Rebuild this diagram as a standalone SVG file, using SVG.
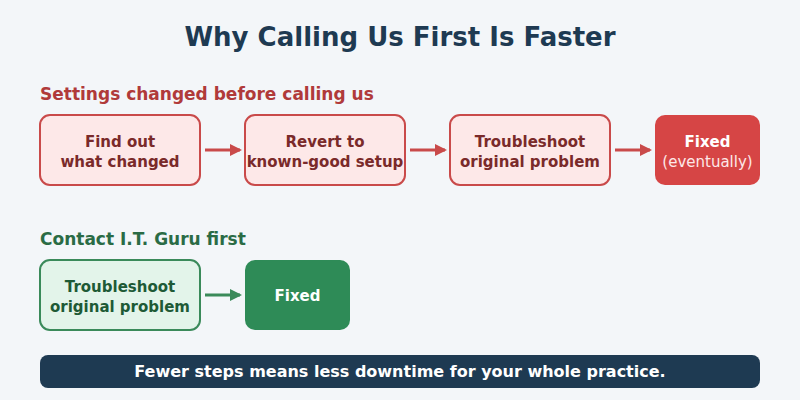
<svg xmlns="http://www.w3.org/2000/svg" width="800" height="400" viewBox="0 0 800 400">
<defs>
<style>
text{font-family:"DejaVu Sans","Liberation Sans",sans-serif;font-weight:bold}
.title{font-size:26px;fill:#1e3a52}
.sec{font-size:17px}
.red{fill:#b03a3a}
.grn{fill:#2a6b45}
.rbox{fill:#fde8e8;stroke:#c94a4a;stroke-width:2}
.gbox{fill:#e3f4ea;stroke:#3a8a5a;stroke-width:2}
.rt{font-size:15px;fill:#7a2a2a}
.gt{font-size:15px;fill:#1e5a36}
.wt{font-size:15px;fill:#ffffff}
.conr{stroke:#c94a4a;stroke-width:3;fill:none}
.cong{stroke:#3a8a5a;stroke-width:3;fill:none}
</style>
<marker id="ar" markerWidth="12" markerHeight="12" refX="10" refY="6" orient="auto" markerUnits="userSpaceOnUse"><path d="M0,0 L12,6 L0,12 Z" fill="#c94a4a"/></marker>
<marker id="ag" markerWidth="12" markerHeight="12" refX="10" refY="6" orient="auto" markerUnits="userSpaceOnUse"><path d="M0,0 L12,6 L0,12 Z" fill="#3a8a5a"/></marker>
</defs>
<rect width="800" height="400" fill="#f3f6f9"/>
<text class="title" x="400" y="46" text-anchor="middle">Why Calling Us First Is Faster</text>
<text class="sec red" x="40" y="100">Settings changed before calling us</text>
<text class="sec grn" x="40" y="245">Contact I.T. Guru first</text>
<g id="n1"><rect class="rbox" x="40" y="115" width="160" height="70" rx="10"/><text class="rt" x="120" y="147" text-anchor="middle">Find out</text><text class="rt" x="120" y="167" text-anchor="middle">what changed</text></g>
<g id="n2"><rect class="rbox" x="245" y="115" width="160" height="70" rx="10"/><text class="rt" x="325" y="147" text-anchor="middle">Revert to</text><text class="rt" x="325" y="167" text-anchor="middle">known-good setup</text></g>
<g id="n3"><rect class="rbox" x="450" y="115" width="160" height="70" rx="10"/><text class="rt" x="530" y="147" text-anchor="middle">Troubleshoot</text><text class="rt" x="530" y="167" text-anchor="middle">original problem</text></g>
<g id="n4"><rect x="655" y="115" width="105" height="70" rx="10" fill="#d64545"/><text class="wt" x="707.5" y="147" text-anchor="middle">Fixed</text><text x="707.5" y="167" text-anchor="middle" style="font-weight:normal;font-size:15px;fill:#fde8e8">(eventually)</text></g>
<g id="n5"><rect class="gbox" x="40" y="260" width="160" height="70" rx="10"/><text class="gt" x="120" y="292" text-anchor="middle">Troubleshoot</text><text class="gt" x="120" y="312" text-anchor="middle">original problem</text></g>
<g id="n6"><rect x="245" y="260" width="105" height="70" rx="10" fill="#2e8b57"/><text class="wt" x="297.5" y="301" text-anchor="middle">Fixed</text></g>
<g id="connectors">
<line class="conr" x1="205" y1="150" x2="240" y2="150" marker-end="url(#ar)"/>
<line class="conr" x1="410" y1="150" x2="445" y2="150" marker-end="url(#ar)"/>
<line class="conr" x1="615" y1="150" x2="650" y2="150" marker-end="url(#ar)"/>
<line class="cong" x1="205" y1="295" x2="240" y2="295" marker-end="url(#ag)"/>
</g>
<g id="footer"><rect x="40" y="355" width="720" height="33" rx="8" fill="#1e3a52"/><text class="wt" x="400" y="377" text-anchor="middle" style="font-size:16px">Fewer steps means less downtime for your whole practice.</text></g>
</svg>
